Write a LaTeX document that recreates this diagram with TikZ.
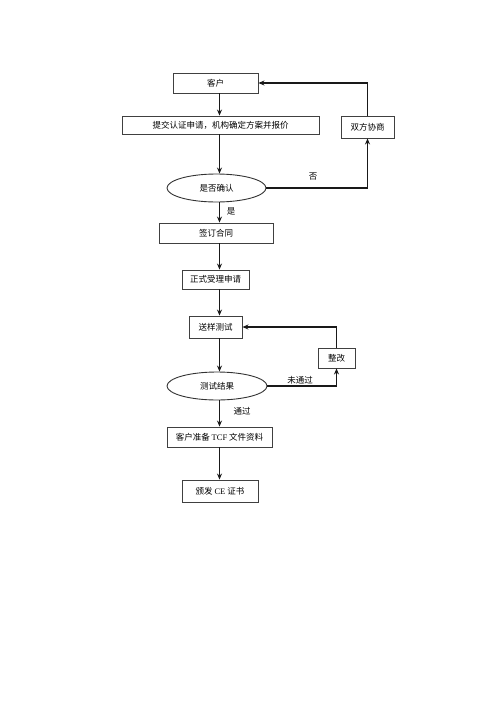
\documentclass[tikz,border=0pt]{standalone}
\usepackage{fontspec}
\setmainfont{Liberation Serif}
\newfontfamily\cjk{Noto Sans CJK SC}
\usetikzlibrary{arrows.meta,shapes.geometric}
\begin{document}
\begin{tikzpicture}[x=1pt,y=-1pt,
  box/.style={draw=black!75,line width=0.9pt,rectangle,inner sep=0pt,font=\cjk\fontsize{8.5}{10}\selectfont},
  oval/.style={draw=black!80,line width=0.9pt,ellipse,inner sep=0pt,font=\cjk\fontsize{8.5}{10}\selectfont},
  lbl/.style={font=\cjk\fontsize{8.5}{10}\selectfont,inner sep=0pt},
  arr/.style={draw=black!90,line width=1.1pt,-{Stealth[length=6pt,width=5pt]}}]
\useasboundingbox[fill=white] (0,0) rectangle (500,707);
\coordinate (spine) at (219.5,0);
\node[box,minimum width=85pt,minimum height=20pt] (kehu) at (215.5,83) {客户};
\node[box,minimum width=197pt,minimum height=18pt] (tijiao) at (220.5,125) {提交认证申请，机构确定方案并报价};
\node[box,minimum width=53pt,minimum height=22pt] (xieshang) at (367.5,127) {双方协商};
\node[oval,minimum width=99pt,minimum height=28pt] (queren) at (216.5,188) {是否确认};
\node[box,minimum width=114pt,minimum height=20pt] (qianding) at (216,233) {签订合同};
\node[box,minimum width=67pt,minimum height=19pt] (shouli) at (215.5,279.5) {正式受理申请};
\node[box,minimum width=53pt,minimum height=22pt] (songyang) at (215.5,327) {送样测试};
\node[box,minimum width=37pt,minimum height=20pt] (zhenggai) at (336.5,358) {整改};
\node[oval,minimum width=100pt,minimum height=28pt] (jieguo) at (217,386) {测试结果};
\node[box,minimum width=105pt,minimum height=20pt] (tcf) at (219.5,437) {客户准备 {\rmfamily TCF} 文件资料};
\node[box,minimum width=76pt,minimum height=22pt] (ce) at (220,491) {颁发 {\rmfamily CE} 证书};
\node[lbl] (fou) at (313,177) {否};
\node[lbl] (shi) at (231,211) {是};
\node[lbl] (weitongguo) at (300,380) {未通过};
\node[lbl] (tongguo) at (242,411) {通过};
\draw[arr] (kehu.south -| spine) -- (tijiao.north -| spine);
\draw[arr] (tijiao.south -| spine) -- (queren.north -| spine);
\draw[arr] (queren.south -| spine) -- (qianding.north -| spine);
\draw[arr] (qianding.south -| spine) -- (shouli.north -| spine);
\draw[arr] (shouli.south -| spine) -- (songyang.north -| spine);
\draw[arr] (songyang.south -| spine) -- (jieguo.north -| spine);
\draw[arr] (jieguo.south -| spine) -- (tcf.north -| spine);
\draw[arr] (tcf.south -| spine) -- (ce.north -| spine);
\draw[arr] (queren.east) -| (xieshang.south);
\draw[arr] (xieshang.north) |- (kehu.east);
\draw[arr] (jieguo.east) -| (zhenggai.south);
\draw[arr] (zhenggai.north) |- (songyang.east);
\end{tikzpicture}
\end{document}
